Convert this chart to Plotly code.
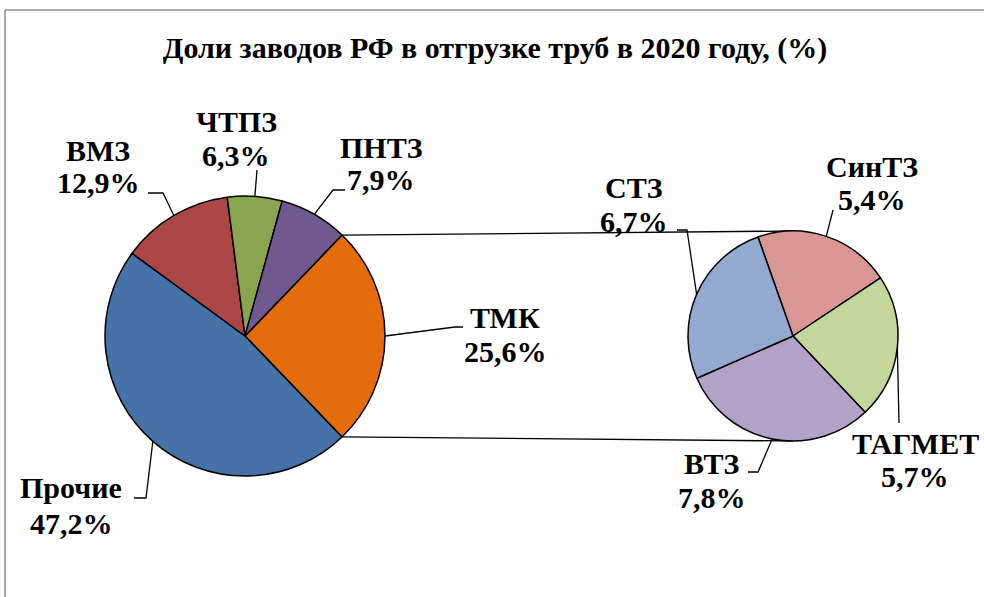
import math
import plotly.graph_objects as go

W, H = 984, 597

# ---------------- data ----------------
title_text = "Доли заводов РФ в отгрузке труб в 2020 году, (%)"

main_labels = ["ТМК", "Прочие", "ВМЗ", "ЧТПЗ", "ПНТЗ"]
main_values = [25.6, 47.2, 12.9, 6.3, 7.9]
main_colors = ["#E46C0A", "#4572A7", "#AA4643", "#89A54E", "#71588F"]

sub_labels = ["СинТЗ", "ТАГМЕТ", "ВТЗ", "СТЗ"]
sub_values = [5.4, 5.7, 7.8, 6.7]
sub_colors = ["#D99694", "#C3D69B", "#B3A2C7", "#93A9CF"]

# ---------------- layout (pixels) ----------------
main_c, main_r = (245, 336), 140
sub_c, sub_r = (793, 336), 105
# ТМК (index 0) centred at 3 o'clock
main_rot = 90 - main_values[0] / sum(main_values) * 360 / 2
sub_rot = -19.5

# label: (x centre, y of name line, y of value line), leader elbow, leader end (pixels)
main_lbl = {
    "ТМК": ((505, 317, 351), (455, 327), (463, 327)),
    "Прочие": ((71, 487, 523), (146, 498), (134, 498)),
    "ВМЗ": ((98, 150, 182), (163, 193), (148, 193)),
    "ЧТПЗ": ((236, 122, 155), (257, 170), (257, 170)),
    "ПНТЗ": ((381, 147, 180), (333, 190), (345, 190)),
}
sub_lbl = {
    "СинТЗ": ((872, 166, 200), (833, 210), (833, 210)),
    "ТАГМЕТ": ((915, 443, 476), (899, 423), (899, 423)),
    "ВТЗ": ((712, 463, 497), (758, 472), (748, 472)),
    "СТЗ": ((634, 187, 221), (687, 230), (677, 230)),
}

FONT = "Liberation Serif"
LABEL_SIZE = 30


def px(x):
    return x / W


def py(y):
    return 1 - y / H


def fmt(v):
    return f"{v:.1f}".replace(".", ",") + "%"


def edge(c, r, bearing):
    a = math.radians(bearing)
    return (c[0] + r * math.sin(a), c[1] - r * math.cos(a))


def domain(c, r):
    return dict(x=[px(c[0] - r), px(c[0] + r)], y=[py(c[1] + r), py(c[1] - r)])


fig = go.Figure()
fig.add_trace(go.Pie(
    labels=main_labels, values=main_values, sort=False, direction="clockwise",
    rotation=main_rot, textinfo="none", domain=domain(main_c, main_r),
    marker=dict(colors=main_colors, line=dict(color="black", width=1.5)),
    showlegend=False, name="main"))
fig.add_trace(go.Pie(
    labels=sub_labels, values=sub_values, sort=False, direction="clockwise",
    rotation=sub_rot, textinfo="none", domain=domain(sub_c, sub_r),
    marker=dict(colors=sub_colors, line=dict(color="black", width=1.5)),
    showlegend=False, name="sub"))

annotations = []
shapes = []


def add_labels(labels, values, rot, c, r, lbl):
    total = sum(values)
    start = rot
    for lab, v in zip(labels, values):
        span = v / total * 360
        mid = start + span / 2
        start += span
        (lx, ly1, ly2), elb, end = lbl[lab]
        for txt, ly in ((lab, ly1), (fmt(v), ly2)):
            annotations.append(dict(
                x=px(lx), y=py(ly), xref="paper", yref="paper", showarrow=False,
                xanchor="center", yanchor="middle", align="center",
                text=f"<b>{txt}</b>",
                font=dict(family=FONT, size=LABEL_SIZE, color="black")))
        e = edge(c, r, mid)
        path = f"M {px(e[0])} {py(e[1])} L {px(elb[0])} {py(elb[1])} L {px(end[0])} {py(end[1])}"
        shapes.append(dict(type="path", xref="paper", yref="paper", path=path,
                           line=dict(color="black", width=1.3)))


add_labels(main_labels, main_values, main_rot, main_c, main_r, main_lbl)
add_labels(sub_labels, sub_values, sub_rot, sub_c, sub_r, sub_lbl)

# connector lines between the "ТМК" slice and the secondary pie
tmk_span = main_values[0] / sum(main_values) * 360
p_top = edge(main_c, main_r, main_rot)
p_bot = edge(main_c, main_r, main_rot + tmk_span)
for p, q in [(p_top, (sub_c[0], sub_c[1] - sub_r)), (p_bot, (sub_c[0], sub_c[1] + sub_r))]:
    shapes.append(dict(type="line", xref="paper", yref="paper",
                       x0=px(p[0]), y0=py(p[1]), x1=px(q[0]), y1=py(q[1]),
                       line=dict(color="black", width=1.3), layer="below"))

# chart frame (top and left edges visible)
shapes.append(dict(type="line", xref="paper", yref="paper", x0=px(5), y0=py(10), x1=1, y1=py(10),
                   line=dict(color="#8C8C8C", width=1.5)))
shapes.append(dict(type="line", xref="paper", yref="paper", x0=px(5), y0=py(10), x1=px(5), y1=0,
                   line=dict(color="#8C8C8C", width=1.5)))

fig.update_layout(
    width=W, height=H, margin=dict(l=0, r=0, t=0, b=0),
    paper_bgcolor="white", plot_bgcolor="white",
    font=dict(family=FONT),
    title=dict(text=f"<b>{title_text}</b>", x=px(495), xanchor="center",
               y=py(47), yanchor="middle", yref="container",
               font=dict(family=FONT, size=30, color="black")),
    annotations=annotations, shapes=shapes,
)

fig.write_html("out.html", config={"displayModeBar": False},
               post_script="document.body.style.margin='0';document.body.style.overflow='hidden';")
